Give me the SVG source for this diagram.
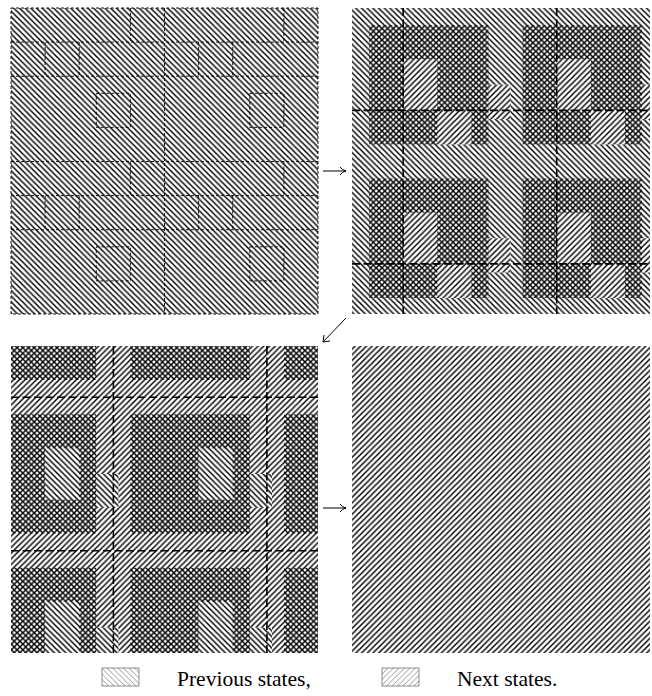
<svg xmlns="http://www.w3.org/2000/svg" width="652" height="696" viewBox="0 0 652 696">
<style>
.bd{fill:none;stroke:#000;stroke-width:1.6;stroke-dasharray:8 3.5}
.fd{fill:none;stroke:#000;stroke-width:0.9;stroke-dasharray:3 2}
.ar{fill:none;stroke:#000;stroke-width:1}
.lg{font-family:"Liberation Serif","Times New Roman",serif;font-size:21.5px;fill:#000}
.w{fill:#fff}
.p{fill:url(#hp)}
.n{fill:url(#hn)}
</style>
<defs>
<pattern id="hp" width="5.7" height="5.7" patternUnits="userSpaceOnUse"><path d="M-1,-1 L6.7,6.7 M-1,4.7 L1,6.7 M4.7,-1 L6.7,1" stroke="#000" stroke-width="1.45"/></pattern>
<pattern id="hn" width="5.7" height="5.7" patternUnits="userSpaceOnUse"><path d="M-1,6.7 L6.7,-1 M-1,1 L1,-1 M4.7,6.7 L6.7,4.7" stroke="#000" stroke-width="1.45"/></pattern>
<pattern id="lp" width="5.5" height="5.5" patternUnits="userSpaceOnUse"><path d="M-1,-1 L6.5,6.5 M-1,4.5 L1,6.5 M4.5,-1 L6.5,1" stroke="#555" stroke-width="0.6"/></pattern>
<pattern id="ln" width="5.5" height="5.5" patternUnits="userSpaceOnUse"><path d="M-1,6.5 L6.5,-1 M-1,1 L1,-1 M4.5,6.5 L6.5,4.5" stroke="#555" stroke-width="0.6"/></pattern>
<clipPath id="c2"><rect x="352" y="8" width="298" height="306"/></clipPath>
<clipPath id="c3"><rect x="11" y="346" width="307" height="307"/></clipPath>
<clipPath id="c4"><rect x="352" y="346" width="298" height="307"/></clipPath>
</defs>
<rect width="652" height="696" fill="#fff"/>

<g id="panel1">
<rect x="11" y="8" width="307" height="306" class="p"/>
<rect x="11" y="8" width="307" height="306" class="fd"/>
<path class="fd" d="M164.5,8 V314 M11,161.5 H318
M11,42.1 H318 M11,76.2 H318 M11,195.6 H318 M11,229.7 H318
M45.1,42.1 V76.2 M79.2,42.1 V76.2 M198.6,42.1 V76.2 M232.7,42.1 V76.2
M45.1,195.6 V229.7 M79.2,195.6 V229.7 M198.6,195.6 V229.7 M232.7,195.6 V229.7
M130.4,8 V42.1 M283.9,8 V42.1 M130.4,161.5 V195.6 M283.9,161.5 V195.6
M96.3,93.3 h34.1 v34.1 h-34.1 z M249.8,93.3 h34.1 v34.1 h-34.1 z M96.3,246.8 h34.1 v34.1 h-34.1 z M249.8,246.8 h34.1 v34.1 h-34.1 z"/>
</g>

<g id="panel2" clip-path="url(#c2)">
<rect x="352" y="8" width="298" height="306" class="p"/>
<path class="w" d="M403.2,59.2 H437.3 V110.3 H403.2 z M556.7,59.2 H590.8 V110.3 H556.7 z M403.2,212.7 H437.3 V263.8 H403.2 z M556.7,212.7 H590.8 V263.8 H556.7 z
M437.3,110.3 H471.4 V144.4 H437.3 z M590.8,110.3 H624.9 V144.4 H590.8 z M437.3,263.8 H471.4 V297.9 H437.3 z M590.8,263.8 H624.9 V297.9 H590.8 z
M488.4,84.8 H510.6 V118.9 H488.4 z M641.9,84.8 H664 V118.9 H641.9 z M488.4,238.3 H510.6 V272.4 H488.4 z M641.9,238.3 H664 V272.4 H641.9 z"/>
<path class="n" d="M369.1,25.1 H488.4 V144.4 H369.1 z M522.6,25.1 H641.9 V144.4 H522.6 z M369.1,178.6 H488.4 V297.9 H369.1 z M522.6,178.6 H641.9 V297.9 H522.6 z
M488.4,84.8 H510.6 V118.9 H488.4 z M641.9,84.8 H664 V118.9 H641.9 z M488.4,238.3 H510.6 V272.4 H488.4 z M641.9,238.3 H664 V272.4 H641.9 z"/>
<path class="bd" d="M403.2,8 V314 M556.7,8 V314 M352,110.4 H652 M352,263.9 H652"/>
</g>

<g id="panel3" clip-path="url(#c3)">
<rect x="11" y="346" width="307" height="307" class="n"/>
<path class="w" d="M45.1,448.3 H79.2 V499.5 H45.1 z M198.6,448.3 H232.7 V499.5 H198.6 z M45.1,601.8 H79.2 V653 H45.1 z M198.6,601.8 H232.7 V653 H198.6 z
M96.3,473.9 H118.5 V508 H96.3 z M249.8,473.9 H272 V508 H249.8 z M96.3,627.4 H118.5 V661.5 H96.3 z M249.8,627.4 H272 V661.5 H249.8 z"/>
<path class="p" d="M0,414.2 H96.3 V533.6 H0 z M130.4,414.2 H249.8 V533.6 H130.4 z M283.9,414.2 H330 V533.6 H283.9 z
M0,567.7 H96.3 V660 H0 z M130.4,567.7 H249.8 V660 H130.4 z M283.9,567.7 H330 V660 H283.9 z
M0,340 H96.3 V380.1 H0 z M130.4,340 H249.8 V380.1 H130.4 z M283.9,340 H330 V380.1 H283.9 z
M96.3,473.9 H118.5 V508 H96.3 z M249.8,473.9 H272 V508 H249.8 z M96.3,627.4 H118.5 V661.5 H96.3 z M249.8,627.4 H272 V661.5 H249.8 z"/>
<path class="bd" d="M113.4,346 V653 M266.9,346 V653 M11,397.2 H318 M11,550.7 H318"/>
</g>

<g id="panel4" clip-path="url(#c4)">
<rect x="352" y="346" width="298" height="307" class="n"/>
</g>

<g id="connectors">
<path class="ar" d="M323,171 H346 M340,167 Q342,170 346,171 Q342,172 340,175"/>
<path class="ar" d="M346,318 L323,342 M323,342 L324,335 M323,342 L330,341"/>
<path class="ar" d="M323,508 H346 M340,504 Q342,507 346,508 Q342,509 340,512"/>
</g>

<g id="legend">
<rect x="102" y="668" width="37" height="18" fill="url(#lp)" stroke="#444" stroke-width="0.6"/>
<text class="lg" x="177" y="686">Previous states,</text>
<rect x="382" y="668" width="37" height="18" fill="url(#ln)" stroke="#444" stroke-width="0.6"/>
<text class="lg" x="457" y="686">Next states.</text>
</g>
</svg>
